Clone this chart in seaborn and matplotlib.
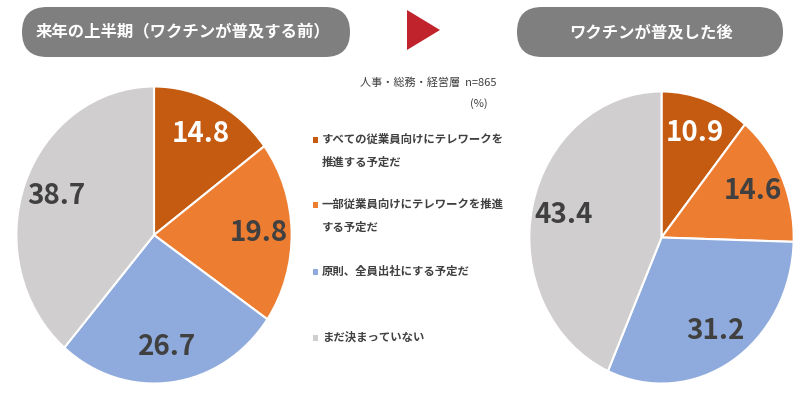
import numpy as np
import matplotlib
matplotlib.use("Agg")
import matplotlib.pyplot as plt
import seaborn as sns
from matplotlib.patches import FancyBboxPatch, Polygon, Rectangle

# データ
categories = ["すべての従業員向けにテレワークを\n推進する予定だ",
              "一部従業員向けにテレワークを推進\nする予定だ",
              "原則、全員出社にする予定だ",
              "まだ決まっていない"]
before_vals = [14.8, 19.8, 26.7, 38.7]
after_vals = [10.9, 14.6, 31.2, 43.4]
title_before = "来年の上半期（ワクチンが普及する前）"
title_after = "ワクチンが普及した後"
note_text = "人事・総務・経営層  n=865"
unit_text = "(%)"

colors = ["#C55A11", "#ED7D31", "#8FAADC", "#D0CECE"]
label_colors = ["white", "#404040", "#404040", "#404040"]

sns.set_style("white")
plt.rcParams['font.family'] = ['Noto Sans CJK JP', 'DejaVu Sans']

fig = plt.figure(figsize=(8, 3.95), dpi=100)

# 背景用の軸（ピクセル座標）
bg = fig.add_axes([0, 0, 1, 1])
bg.set_xlim(0, 800)
bg.set_ylim(395, 0)
bg.axis("off")

# ヘッダー
for (x0, x1, txt, cx) in [(22, 350, title_before, 183), (517, 783, title_after, 651)]:
    pill = FancyBboxPatch((x0, 7), x1 - x0, 50, boxstyle="round,pad=0,rounding_size=25",
                          fc="#7F7F7F", ec="none")
    bg.add_patch(pill)
    bg.text(cx, 32, txt, color="white", fontsize=11.8, fontweight="bold",
            ha="center", va="center")

# 矢印
bg.add_patch(Polygon([[407, 10], [407, 50], [440, 30]], closed=True, fc="#C0232B", ec="none"))

# 注記
bg.text(497, 83, note_text, fontsize=8, color="#404040", ha="right", va="center")
bg.text(488, 104, unit_text, fontsize=8, color="#404040", ha="right", va="center")

# 凡例
legend_y = [140, 205, 272, 338]
for y, cat, col in zip(legend_y, categories, colors):
    bg.add_patch(Rectangle((313, y - 3), 5, 6, fc=col, ec="none"))
    bg.text(322, y - 7, cat, fontsize=8.2, fontweight="bold", color="#404040",
            ha="left", va="top", linespacing=2.0)


def draw_pie(rect, vals):
    ax = fig.add_axes(rect)
    total = sum(vals)
    wedges, texts, autotexts = ax.pie(
        vals, colors=colors, startangle=90, counterclock=False,
        autopct=lambda p: f"{p * total / 100:.1f}", pctdistance=0.76,
        wedgeprops=dict(edgecolor="white", linewidth=1.5))
    for t, c in zip(autotexts, label_colors):
        t.set_color(c)
        t.set_fontsize(20)
        t.set_fontweight("bold")
    ax.set_aspect("auto")
    ax.set_xlim(-1.01, 1.01)
    ax.set_ylim(-1.01, 1.01)
    ax.axis("off")
    return ax


draw_pie([15 / 800, 10 / 395, 278 / 800, 300 / 395], before_vals)
draw_pie([528 / 800, 10 / 395, 267 / 800, 295 / 395], after_vals)

fig.savefig("out.png", dpi=100)
